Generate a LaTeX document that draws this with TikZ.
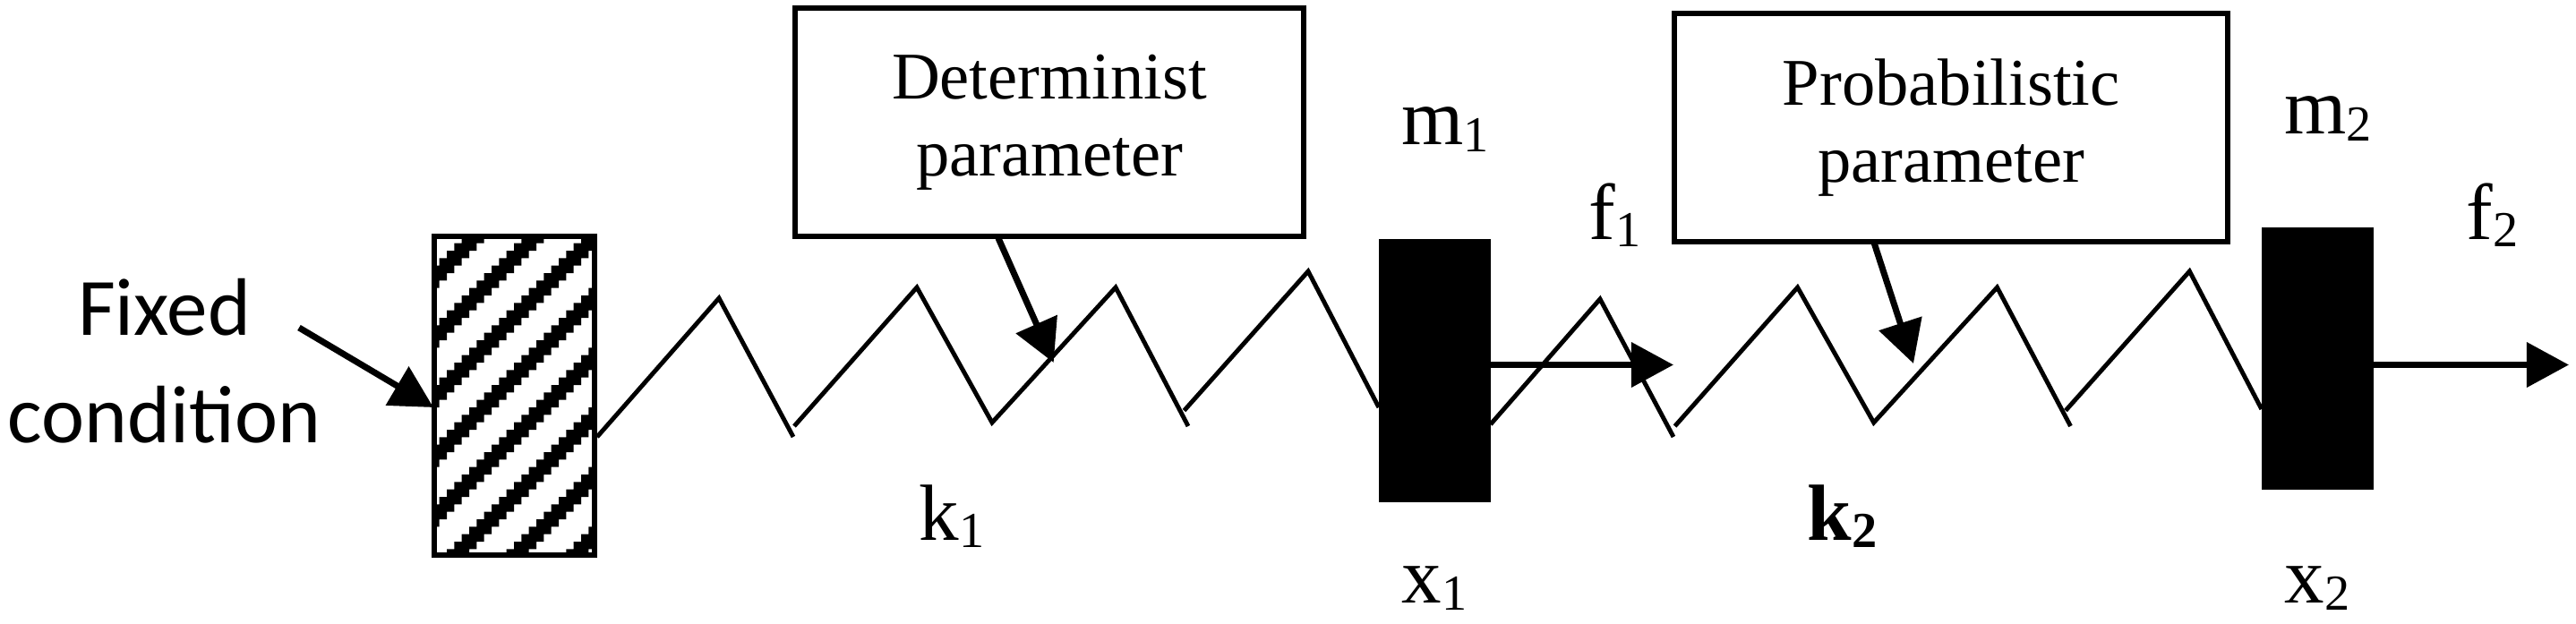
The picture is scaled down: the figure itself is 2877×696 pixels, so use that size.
\documentclass[tikz,border=0pt]{standalone}
\usepackage{fontspec}
\setmainfont{Liberation Serif}
\newfontfamily\sidefont{Carlito}
\usetikzlibrary{arrows.meta}
\newcommand{\subidx}[1]{\raisebox{-.08cm}{\fontsize{16}{16}\selectfont #1}}
\tikzset{
  parambox/.style={draw, line width=1.7pt, inner sep=0pt, align=center, font=\fontsize{21.2}{24.6}\selectfont},
  massblock/.style={fill=black, inner sep=0pt, outer sep=0pt, minimum width=1.247cm, minimum height=2.93cm},
  springline/.style={line width=1.4pt},
  thickarrow/.style={->, line width=2pt},
  symbol/.style={anchor=base west, inner sep=0pt, font=\fontsize{25.3}{28}\selectfont},
}
\begin{document}
\begin{tikzpicture}[>={Triangle[length=.47cm,width=.49cm]}, x=.01cm, y=-.01cm]
\useasboundingbox (0,0) rectangle (2877,696);

% wall with stepped hatching
\begin{scope}
\clip (483,263) rectangle (666,621);
\fill \foreach \j in {-3,...,41} { \foreach \k in {0,...,8} {
  ({499-8.333*\j+66.67*\k},{280+8.333*\j}) rectangle ({524-8.333*\j+66.67*\k},{288.4+8.333*\j})
}};
\end{scope}
\node (wall) [draw, line width=1.7pt, inner sep=0pt, minimum width=1.79cm, minimum height=3.55cm] at (574.35,442) {};

\node (fixedtxt) [font=\sidefont\fontsize{25.9}{34.1}\selectfont, align=center, inner sep=0pt] at (183.5,403) {Fixed\\condition};

\node (mone) [massblock] at (1602.3,414) {};
\node (mtwo) [massblock] at (2588.25,400.9) {};

\node (detbox) [parambox, minimum width=5.68cm, minimum height=2.55cm] at (1172,136.75) {Determinist\\parameter};
\node (probox) [parambox, minimum width=6.175cm, minimum height=2.54cm] at (2179.25,142.5) {Probabilistic\\parameter};

% first spring
\draw [springline] (wall.east |- 0,488)--(803,333)--(886,488);
\draw [springline] (887,476)--(1024,321)--(1108,472)--(1246,321)--(1327,476);
\draw [springline] (1322.5,458.6)--(1461,303)--(mone.west |- 0,455);

% second spring
\draw [springline] (mone.east |- 0,474)--(1787,334)--(1869,488);
\draw [springline] (1870.6,476)--(2007.6,321)--(2092.7,472)--(2230.5,321)--(2312.5,476);
\draw [springline] (2307,458.6)--(2445.4,303)--(mtwo.west |- 0,457);

\coordinate (fixedtail) at (334,366);
\coordinate (fixedtip) at (484,455);
\coordinate (dettail) at (1115,266);
\coordinate (dettip) at (1176.7,405);
\coordinate (protail) at (2093,271);
\coordinate (protip) at (2137,406);
\coordinate (fonetip) at (1869,407.5);
\coordinate (ftwotip) at (2869,407.5);

\draw [thickarrow] (fixedtail)--(fixedtip);
\draw [thickarrow] (dettail)--(dettip);
\draw [thickarrow] (protail)--(protip);
\draw [thickarrow] (mone.east |- fonetip)--(fonetip);
\draw [thickarrow] (mtwo.east |- ftwotip)--(ftwotip);

\node (mass1) [symbol] at (1565,161) {m\subidx{1}};
\node (force1) [symbol] at (1774,267.7) {f\subidx{1}};
\node (stiff1) [symbol] at (1026,603.7) {k\subidx{1}};
\node (disp1) [symbol] at (1565,673) {x\subidx{1}};
\node (mass2) [symbol] at (2551,149.6) {m\subidx{2}};
\node (force2) [symbol] at (2754,267.7) {f\subidx{2}};
\node (stiff2) [symbol] at (2018,603.7) {\textbf{k\subidx{2}}};
\node (disp2) [symbol] at (2551,673) {x\subidx{2}};
\end{tikzpicture}
\end{document}
